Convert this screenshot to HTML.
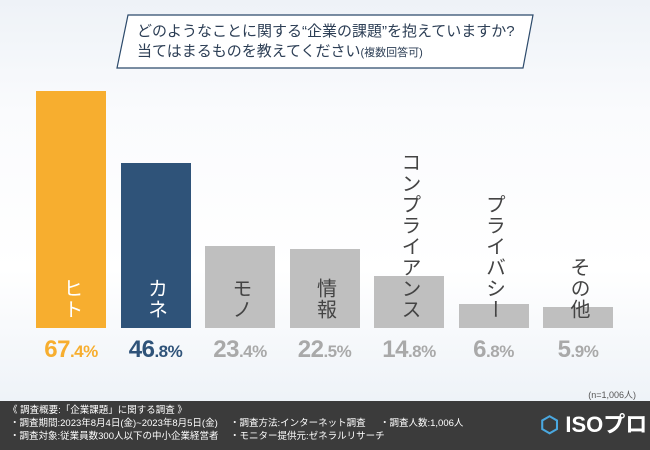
<!DOCTYPE html>
<html><head><meta charset="utf-8"><style>
body{margin:0;width:650px;height:450px;overflow:hidden;font-family:"Liberation Sans","Noto Sans CJK JP",sans-serif;}
#wrap{position:relative;width:650px;height:450px;background:linear-gradient(180deg,#eef2f7 0%,#fafbfd 25%,#ffffff 60%,#e8eef5 100%);}
.bar{position:absolute;}
.lbl{position:absolute;writing-mode:vertical-rl;font-size:20px;line-height:24px;letter-spacing:1px;font-weight:normal;}
.val{position:absolute;width:100px;text-align:center;font-size:24px;font-weight:bold;top:336px;letter-spacing:-0.5px;}
.val small{font-size:17px;}
#footer{position:absolute;left:0;top:401px;width:650px;height:49px;background:#3b3b3b;color:#fff;font-size:9.5px;line-height:12px;}
</style></head><body>
<div id="wrap">
<svg width="650" height="80" style="position:absolute;left:0;top:0">
<polygon points="128,15 533,15 523,68 117,68" fill="#fff" stroke="#2c4a6b" stroke-width="1.2"/>
</svg>
<div style="position:absolute;left:137px;top:22px;font-size:15px;line-height:20px;color:#2c3e55;">どのようなことに関する“企業の課題”を抱えていますか?<br>当てはまるものを教えてください<span style="font-size:11px">(複数回答可)</span></div>
<div id="plot"></div>
<div style="position:absolute;right:14px;top:388px;font-size:9px;color:#555">(n=1,006人)</div>
<div id="footer">
<div style="position:absolute;left:8px;top:4px">《 調査概要:「企業課題」に関する調査 》</div>
<div style="position:absolute;left:10px;top:17px">・調査期間:2023年8月4日(金)~2023年8月5日(金)</div>
<div style="position:absolute;left:10px;top:30px">・調査対象:従業員数300人以下の中小企業経営者</div>
<div style="position:absolute;left:230px;top:17px">・調査方法:インターネット調査</div>
<div style="position:absolute;left:230px;top:30px">・モニター提供元:ゼネラルリサーチ</div>
<div style="position:absolute;left:380px;top:17px">・調査人数:1,006人</div>
<div style="position:absolute;left:540px;top:11px;font-size:22px;line-height:26px;font-weight:bold;"><span style="color:#4aa8e0">⬡</span> ISOプロ</div>
</div>
</div>
<script>
const categories=["ヒト","カネ","モノ","情報","コンプライアンス","プライバシー","その他"];
const values=[67.4,46.8,23.4,22.5,14.8,6.8,5.9];
const valueText=["67.4","46.8","23.4","22.5","14.8","6.8","5.9"];
const colors=["#f7ae2f","#2f5379","#bfbfbf","#bfbfbf","#bfbfbf","#bfbfbf","#bfbfbf"];
const valColors=["#f7ae2f","#2f5379","#a9a9a9","#a9a9a9","#a9a9a9","#a9a9a9","#a9a9a9"];
const base=328, pxPer=237/67.4, x0=36, step=84.5, bw=70;
function yScale(v){return base-v*pxPer;}
function xScale(i){return x0+i*step;}
const plot=document.getElementById('plot');
categories.forEach((c,i)=>{
 const b=document.createElement('div');b.className='bar';
 
 
 const top=yScale(values[i]);
 b.style.cssText=`left:${xScale(i)}px;top:${top}px;width:${bw}px;height:${base-top}px;background:${colors[i]}`;
 plot.appendChild(b);
 const l=document.createElement('div');l.className='lbl';
 
 
 l.textContent=c;
 l.style.left=(xScale(i)+bw/2-12)+'px';
 l.style.bottom=(450-320)+'px';
 l.style.color=i<2?'#fff':'#444';
 plot.appendChild(l);
 const v=document.createElement('div');v.className='val';
 
 
 const p=valueText[i].split('.');
 v.innerHTML=p[0]+'<small>.'+p[1]+'%</small>';
 v.style.left=(xScale(i)+bw/2-50)+'px';
 v.style.color=valColors[i];
 plot.appendChild(v);
});
</script>
</body></html>
